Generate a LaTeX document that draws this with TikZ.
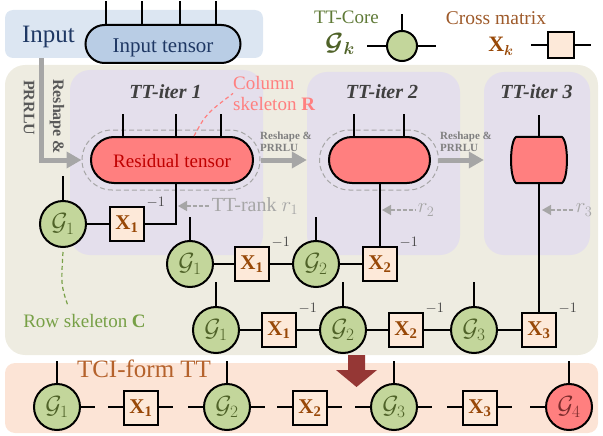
\documentclass[tikz,border=0pt]{standalone}
\usepackage{fontspec}
\usepackage{bm}
\setmainfont{Liberation Serif}
\usetikzlibrary{arrows.meta,calc}
\definecolor{inputBg}{HTML}{DCE6F2}
\definecolor{inputF}{HTML}{B9CDE5}
\definecolor{navy}{HTML}{1F3864}
\definecolor{beige}{HTML}{EEECE1}
\definecolor{purpleF}{HTML}{E4DFEC}
\definecolor{resF}{HTML}{FF7F7F}
\definecolor{resT}{HTML}{C00000}
\definecolor{coreF}{HTML}{C3D69B}
\definecolor{coreT}{HTML}{4F6228}
\definecolor{crossF}{HTML}{FDE9D9}
\definecolor{crossT}{HTML}{984807}
\definecolor{tciBg}{HTML}{FCE4D6}
\definecolor{tciT}{HTML}{B5622C}
\definecolor{grayA}{HTML}{A6A6A6}
\definecolor{iterT}{HTML}{404040}
\definecolor{invT}{HTML}{404040}
\definecolor{darkred}{HTML}{953735}
\definecolor{gfourT}{HTML}{7B2C2C}
\definecolor{legCore}{HTML}{5F7A37}
\definecolor{legCross}{HTML}{9E5A2A}
\definecolor{rowT}{HTML}{77A046}
\definecolor{pinkT}{HTML}{FF8080}
\definecolor{smallT}{HTML}{808080}
\definecolor{rotT}{HTML}{595959}
\begin{document}
\begin{tikzpicture}[x=1pt,y=-1pt,
  leg/.style={line width=2pt, draw=black},
  core/.style={circle, draw=black, line width=2pt, fill=coreF, text=coreT, minimum size=46pt, inner sep=0pt, font=\fontsize{27}{27}\selectfont},
  cross/.style={rectangle, draw=black, line width=1.6pt, fill=crossF, text=crossT, minimum size=34pt, inner sep=0pt, font=\fontsize{21}{21}\selectfont},
  inv/.style={text=invT, font=\fontsize{14}{14}\selectfont, inner sep=0pt},
  resid/.style={draw=black, line width=2pt, fill=resF, rounded corners=23pt, inner sep=0pt, minimum height=46pt},
  dpill/.style={draw=grayA, line width=1pt, dash pattern=on 5pt off 3pt, rounded corners=30pt, minimum height=60pt, inner sep=0pt},
  iterbox/.style={fill=purpleF, rounded corners=20pt, inner sep=0pt},
  ititle/.style={text=iterT, font=\bfseries\itshape\fontsize{20}{20}\selectfont, anchor=base},
  garrow/.style={draw=grayA, line width=5pt, -{Triangle[length=15pt,width=16pt]}},
  dgarrow/.style={draw=grayA, line width=1.5pt, dash pattern=on 4pt off 2pt, {Triangle[length=9pt,width=10pt]}-},
  rank/.style={text=grayA, font=\fontsize{20}{20}\selectfont, anchor=west, inner sep=1pt},
  smalllab/.style={text=smallT, font=\bfseries\fontsize{11}{12.5}\selectfont, align=left, anchor=south west, inner sep=0pt},
  rotlab/.style={text=rotT, font=\bfseries\fontsize{16}{16}\selectfont, rotate=-90, anchor=west, inner sep=0pt},
]
\useasboundingbox (0,0) rectangle (603,436);

% backgrounds
\node[fill=inputBg, rounded corners=8pt, minimum width=258pt, minimum height=48pt, inner sep=0pt] (inbox) at (134,34) {};
\node[fill=beige, rounded corners=20pt, minimum width=593pt, minimum height=290pt, inner sep=0pt] (work) at (301.5,210) {};
\node[fill=tciBg, rounded corners=10pt, minimum width=593pt, minimum height=70pt, inner sep=0pt] (tcibox) at (301.5,398) {};
\node[iterbox, minimum width=193pt, minimum height=185pt] (it1) at (166.5,162.5) {};
\node[iterbox, minimum width=153pt, minimum height=183pt] (it2) at (383.5,163.5) {};
\node[iterbox, minimum width=106pt, minimum height=183pt] (it3) at (537,163.5) {};

% input
\node[anchor=base, text=navy, font=\fontsize{25}{25}\selectfont, inner sep=0pt] (inlab) at (48.5,43) {Input};
\node[draw=black, line width=2pt, fill=inputF, rounded corners=19pt, minimum width=155pt, minimum height=38pt, inner sep=0pt, text=navy, font=\fontsize{21}{21}\selectfont, text height=17pt, text depth=0pt] (intensor) at (163,44) {Input tensor};
\foreach \dx in {-57,-21,17,53} \draw[leg] ([xshift=\dx pt]intensor.north) -- ++(0,-23);

% legend
\node[anchor=base, text=legCore, font=\fontsize{19}{19}\selectfont, inner sep=0pt] (ttcore) at (346.5,24) {TT-Core};
\node[anchor=base, text=coreT, font=\fontsize{24}{24}\selectfont, inner sep=0pt] (gk) at (340,51) {$\bm{\mathcal{G}}_{\bm{k}}$};
\node[core, minimum size=30pt] (lcore) at (402,46) {};
\draw[leg] (lcore.west) -- ++(-19,0);
\draw[leg] (lcore.east) -- ++(18,0);
\draw[leg] (lcore.north) -- ++(0,-16);
\node[anchor=base, text=legCross, font=\fontsize{19.5}{19.5}\selectfont, inner sep=0pt] (crossm) at (496,25) {Cross matrix};
\node[anchor=base, text=crossT, font=\fontsize{22}{22}\selectfont, inner sep=0pt] (xk) at (501,52) {$\mathbf{X}_{\bm{k}}$};
\node[cross, minimum size=26pt] (lcross) at (561,45) {};
\draw[leg] (lcross.west) -- ++(-16,0);
\draw[leg] (lcross.east) -- ++(16,0);

% titles
\node[ititle] (t1) at (165.5,99) {TT-iter 1};
\node[ititle] (t2) at (382,99) {TT-iter 2};
\node[ititle] (t3) at (536.5,99) {TT-iter 3};

% rotated labels
\node[rotlab] (rl1) at (57,79) {Reshape \&};
\node[rotlab] (rl2) at (29,80) {PRRLU};

% residual tensors
\node[dpill, minimum width=178pt] (d1) at (171,160) {};
\node[resid, minimum width=162pt, text=resT, font=\fontsize{19}{19}\selectfont, text height=15pt, text depth=0pt] (res1) at (172,160) {Residual tensor};
\foreach \dx in {-49,4,49} \draw[leg] ([xshift=\dx pt]res1.north) -- ++(0,-22);
\node[dpill, minimum width=119pt] (d2) at (379,160) {};
\node[resid, minimum width=101pt] (res2) at (379.5,160) {};
\foreach \dx in {-25.5,24.5} \draw[leg] ([xshift=\dx pt]res2.north) -- ++(0,-22);
\node[minimum width=55pt, minimum height=46pt, inner sep=0pt] (res3) at (539,160) {};
\draw[leg, fill=resF, line join=round]
  ([xshift=5pt]res3.north west) -- ([xshift=-5pt]res3.north east)
  .. controls ([xshift=2pt,yshift=-4pt]res3.north east) and ([xshift=2pt,yshift=4pt]res3.south east) .. ([xshift=-5pt]res3.south east)
  -- ([xshift=5pt]res3.south west)
  .. controls ([xshift=-2pt,yshift=4pt]res3.south west) and ([xshift=-2pt,yshift=-4pt]res3.north west) .. cycle;
\draw[leg] (res3.north) -- ++(0,-22);

% arrows between stages
\draw[garrow] ([xshift=37pt]inbox.south west) |- (d1.west);
\draw[garrow] (d1.east) -- (d1.east -| it2.west);
\draw[garrow] (d2.east) -- (d2.east -| it3.west);
\node[smalllab] (sl1) at (260,152) {Reshape \&\\PRRLU};
\node[smalllab] (sl2) at (440,152) {Reshape \&\\PRRLU};

% column skeleton
\node[anchor=north west, align=left, text=pinkT, font=\fontsize{19}{21}\selectfont, inner sep=0pt] (colsk) at (233,76) {Column\\skeleton \textbf{R}};
\draw[pinkT, line width=1.2pt, dash pattern=on 4pt off 3pt] ([xshift=22pt]res1.north) .. controls (206,114) .. (colsk.west);

% row 1
\node[core] (a1) at (63,224) {$\mathcal{G}_1$};
\node[cross] (ax1) at (127,224) {$\mathbf{X}_{\mathbf{1}}$};
\draw[leg] (a1) -- (ax1);
\draw[leg] (ax1.east) -| ([xshift=4pt]res1.south);
\draw[leg] (a1.north) -- ++(0,-24);
\node[inv] at ([shift={(11pt,4pt)}]ax1.north east) {$-1$};
\coordinate (tip1) at (178,206);
\draw[dgarrow] (tip1) -- ++(32,0) node[rank] (rk1) {TT-rank $r_1$};

% row skeleton
\coordinate (rsend) at (68,306);
\draw[rowT, line width=1.2pt, dash pattern=on 4pt off 3pt] ([yshift=-4pt]a1.south) .. controls (61,285) .. (rsend);
\node[anchor=base, text=rowT, font=\fontsize{19}{19}\selectfont] (rowsk) at (84.5,327) {Row skeleton \textbf{C}};

% row 2
\node[core] (b1) at (190,264) {$\mathcal{G}_1$};
\node[cross] (bx1) at (252,264) {$\mathbf{X}_{\mathbf{1}}$};
\node[core] (b2) at (316,264) {$\mathcal{G}_2$};
\node[cross] (bx2) at (380,264) {$\mathbf{X}_{\mathbf{2}}$};
\draw[leg] (b1) -- (bx1) -- (b2) -- (bx2);
\draw[leg] (bx2.north) -- (bx2.north |- res2.south);
\draw[leg] (b1.north) -- ++(0,-23);
\draw[leg] (b2.north) -- ++(0,-23);
\node[inv] at ([shift={(11pt,4pt)}]bx1.north east) {$-1$};
\node[inv] at ([shift={(11pt,4pt)}]bx2.north east) {$-1$};
\coordinate (tip2) at (382,210);
\draw[dgarrow] (tip2) -- ++(34,0) node[rank] (rk2) {$r_2$};

% row 3
\node[core] (c1) at (216,330) {$\mathcal{G}_1$};
\node[cross] (cx1) at (279,330) {$\mathbf{X}_{\mathbf{1}}$};
\node[core] (c2) at (343,330) {$\mathcal{G}_2$};
\node[cross] (cx2) at (406,330) {$\mathbf{X}_{\mathbf{2}}$};
\node[core] (c3) at (474,330) {$\mathcal{G}_3$};
\node[cross] (cx3) at (539,330) {$\mathbf{X}_{\mathbf{3}}$};
\draw[leg] (c1) -- (cx1) -- (c2) -- (cx2) -- (c3) -- (cx3);
\draw[leg] (cx3.north) -- (cx3.north |- res3.south);
\foreach \n in {c1,c2,c3} \draw[leg] (\n.north) -- ++(0,-24);
\foreach \n in {cx1,cx2,cx3} \node[inv] at ([shift={(11pt,4pt)}]\n.north east) {$-1$};
\coordinate (tip3) at (542,210);
\draw[dgarrow] (tip3) -- ++(32,0) node[rank] (rk3) {$r_3$};

% big arrow
\fill[darkred] (348,355) -- (365,355) -- (365,370) -- (377,370) -- (356.5,387) -- (336,370) -- (348,370) -- cycle;

% TCI-form TT
\node[anchor=base, text=tciT, font=\fontsize{25}{25}\selectfont] (tci) at (144,377) {TCI-form TT};
\node[core] (e1) at (57,407) {$\mathcal{G}_1$};
\node[cross] (ex1) at (141,408) {$\mathbf{X}_{\mathbf{1}}$};
\node[core] (e2) at (227,407) {$\mathcal{G}_2$};
\node[cross] (ex2) at (310,408) {$\mathbf{X}_{\mathbf{2}}$};
\node[core] (e3) at (394,407) {$\mathcal{G}_3$};
\node[cross] (ex3) at (480,408) {$\mathbf{X}_{\mathbf{3}}$};
\node[core, fill=resF, text=gfourT] (e4) at (569,407) {$\mathcal{G}_4$};
\foreach \n in {e1,e2,e3,e4} \draw[leg] (\n.north) -- ++(0,-22);
\foreach \n in {e1,ex1,e2,ex2,e3,ex3} \draw[leg] (\n.east |- 0,407) -- ++(14,0);
\foreach \n in {ex1,e2,ex2,e3,ex3,e4} \draw[leg] (\n.west |- 0,407) -- ++(-15,0);
\end{tikzpicture}
\end{document}
